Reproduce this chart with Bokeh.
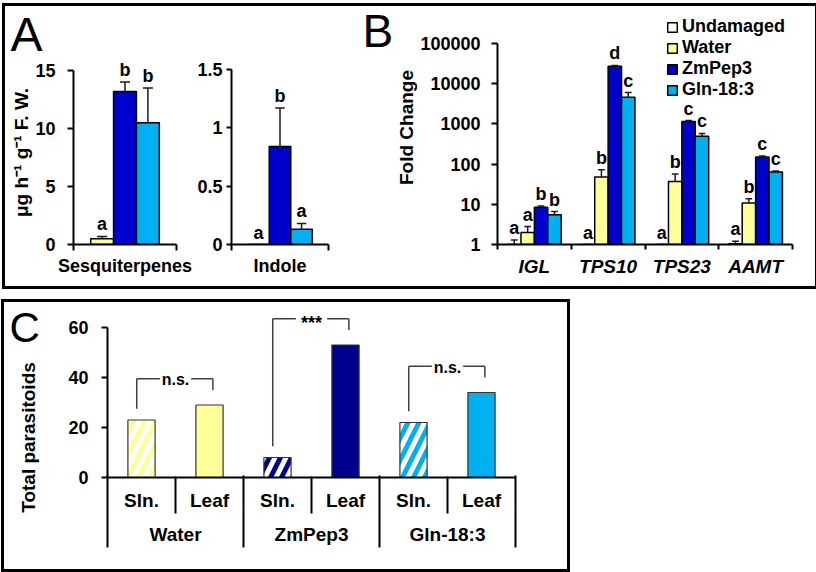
import math
from bokeh.plotting import figure
from bokeh.models import (FixedTicker, Range1d, LinearAxis, Legend, LegendItem)
from bokeh.layouts import row, column
from bokeh.embed import file_html
from bokeh.resources import INLINE
from bokeh.core.properties import value

FONT = "Liberation Sans"

# ---------------- data ----------------
# Panel A
a_series = ["Water", "ZmPep3", "Gln-18:3"]
sesq_mean = [0.5, 13.2, 10.5]
sesq_err = [0.2, 0.8, 3.0]
sesq_letters = ["a", "b", "b"]
indole_mean = [0.0, 0.84, 0.13]
indole_err = [0.0, 0.33, 0.05]
indole_letters = ["a", "b", "a"]
sesq_ticks = [0, 5, 10, 15]
sesq_tick_labels = ["0", "5", "10", "15"]
indole_ticks = [0, 0.5, 1, 1.5]
indole_tick_labels = ["0", "0.5", "1", "1.5"]

# Panel B
genes = ["IGL", "TPS10", "TPS23", "AAMT"]
b_series = ["Undamaged", "Water", "ZmPep3", "Gln-18:3"]
undamaged_fc = [1.0, 1.0, 1.0, 1.05]
undamaged_err = [0.3, 0.0, 0.0, 0.15]
water_fc = [2.0, 48, 37, 10.8]
water_err = [0.8, 24, 20, 3.0]
zmpep_fc = [8.5, 27000, 1150, 150]
zmpep_err = [0.6, 1500, 60, 8]
gln_fc = [5.5, 4600, 490, 64]
gln_err = [1.1, 1400, 90, 3]
undamaged_letters = ["a", "a", "a", "a"]
water_letters = ["a", "b", "b", "b"]
zmpep_letters = ["b", "d", "c", "c"]
gln_letters = ["b", "c", "c", "c"]
fold_ticks = [1, 10, 100, 1000, 10000, 100000]
fold_tick_labels = ["1", "10", "100", "1000", "10000", "100000"]

# Panel C
treatments = ["Water", "ZmPep3", "Gln-18:3"]
sources = ["Sln.", "Leaf"]
sln_counts = [23, 8, 22]
leaf_counts = [29, 53, 34]
significance = ["n.s.", "***", "n.s."]
c_ticks = [0, 20, 40, 60]
c_tick_labels = ["0", "20", "40", "60"]

# ---------------- styles ----------------
a_colors = ["#FFFF99", "#0000CC", "#00B0F0"]
b_colors = ["#FFFFFF", "#FFFF99", "#0000CC", "#00B0F0"]
c_colors = ["#FFFF99", "#000090", "#00B0F0"]
ERR = "#1a1a1a"
BOX = {"outline": "3px solid black", "outline-offset": "-3px"}


def base_fig(x_range, y_range, fw, fh, mb, y_axis_type="linear"):
    p = figure(frame_width=fw, frame_height=fh, x_range=x_range, y_range=y_range,
               y_axis_type=y_axis_type, output_backend="svg", toolbar_location=None,
               min_border_left=mb[0], min_border_right=mb[1],
               min_border_top=mb[2], min_border_bottom=mb[3])
    if "frame_align" in p.properties():
        p.frame_align = False
    p.outline_line_color = None
    p.background_fill_color = None
    p.border_fill_color = None
    p.xgrid.visible = False
    p.ygrid.visible = False
    return p


def style_axis(ax, label_size="18px", tick_out=6, standoff=10):
    ax.axis_line_color = "black"
    ax.axis_line_width = 2
    ax.major_tick_line_color = "black"
    ax.major_tick_line_width = 2
    ax.minor_tick_line_color = "black"
    ax.minor_tick_line_width = 2
    ax.major_tick_in = 0
    ax.minor_tick_in = 0
    ax.major_tick_out = tick_out
    ax.minor_tick_out = 0
    ax.major_label_standoff = standoff
    ax.major_label_text_font = FONT
    ax.major_label_text_font_style = "bold"
    ax.major_label_text_font_size = label_size
    ax.major_label_text_color = "black"
    ax.axis_label_text_font = FONT
    ax.axis_label_text_font_style = "bold"
    ax.axis_label_text_font_size = "19px"
    ax.axis_label_text_color = "black"


def letter_text(p, xs, ys, letters, size="18px", y_offset=-12):
    p.text(x=xs, y=ys, text=letters, text_align="center", text_baseline="middle",
           y_offset=y_offset, text_font=value(FONT), text_font_style="bold",
           text_font_size=size, text_color="black")


def error_bars(p, xs, means, errs, cap):
    tops = [m + e for m, e in zip(means, errs)]
    p.segment(x0=xs, y0=means, x1=xs, y1=tops, line_color=ERR, line_width=1.5)
    p.segment(x0=[x - cap for x in xs], y0=tops, x1=[x + cap for x in xs], y1=tops,
              line_color=ERR, line_width=1.5)
    return tops


def free_text(p, x, y, text, size, style="normal", angle=0.0, align="left"):
    # drawn on the overlay level, so it may sit in the figure's border area
    p.text(x=[x], y=[y], text=[text], angle=angle, text_align=align,
           text_baseline="middle", text_font=value(FONT), text_font_style=style,
           text_font_size=size, text_color="black", level="overlay")


def panel_a(fw, mb, means, errs, letters, ticks, tick_labels, px_per_unit, name,
            tick_out, standoff, ylabel=None):
    fh = 184
    p = base_fig(Range1d(-2.25, 2.25), Range1d(0, fh / px_per_unit), fw, fh, mb)
    xs = [i - (len(means) - 1) / 2 for i in range(len(means))]
    p.vbar(x=xs, top=means, bottom=0, width=1, fill_color=a_colors,
           line_color="black", line_width=1.5)
    tops = error_bars(p, xs, means, errs, 0.22)
    letter_text(p, xs, tops, letters)
    ya = p.yaxis[0]
    style_axis(ya, tick_out=tick_out, standoff=standoff)
    ya.ticker = FixedTicker(ticks=ticks)
    ya.major_label_overrides = dict(zip(ticks, tick_labels))
    ya.bounds = (ticks[0], ticks[-1])
    if ylabel:
        ya.axis_label = ylabel
        ya.axis_label_standoff = 0
    xa = p.xaxis[0]
    style_axis(xa, tick_out=0, standoff=5)
    xa.ticker = FixedTicker(ticks=[0], minor_ticks=[-2.25, 2.25])
    xa.minor_tick_out = 6
    xa.major_label_overrides = {0: name}
    return p


# ---------------- Panel A ----------------
pA1 = panel_a(103, (71, 18, 57, 45), sesq_mean, sesq_err, sesq_letters,
              sesq_ticks, sesq_tick_labels, 11.6, "Sesquiterpenes", 6, 12,
              ylabel="\u03bcg h\u207b\u00b9 g\u207b\u00b9 F. W.")
pA2 = panel_a(97, (34, 15, 57, 45), indole_mean, indole_err, indole_letters,
              indole_ticks, indole_tick_labels, 116.7, "Indole", 5, 4)
pA1.title.text = "A"
pA1.title.align = "left"
pA1.title.offset = -63
pA1.title.standoff = 0
pA1.title.text_font = FONT
pA1.title.text_font_size = "48px"
pA1.title.text_font_style = "normal"
pA1.title.text_color = "black"

# ---------------- Panel B ----------------
fwB, fhB, decade_px = 295, 234, 40.2
pB = base_fig(Range1d(0.5, len(genes) + 0.5), Range1d(1, 10 ** (fhB / decade_px)), fwB, fhB,
              (154, 26, 7, 45), y_axis_type="log")
w = 1 / 5.5
b_vals = [undamaged_fc, water_fc, zmpep_fc, gln_fc]
b_errs = [undamaged_err, water_err, zmpep_err, gln_err]
b_lets = [undamaged_letters, water_letters, zmpep_letters, gln_letters]
renderers = []
for i in range(len(b_series)):
    xs = [g + 1 + (i - 1.5) * w for g in range(len(genes))]
    r = pB.vbar(x=xs, top=b_vals[i], bottom=1, width=w, fill_color=b_colors[i],
                line_color="black", line_width=1.5)
    renderers.append(r)
    tops = error_bars(pB, xs, b_vals[i], b_errs[i], w * 0.25)
    letter_text(pB, xs, tops, b_lets[i])

ya = pB.yaxis[0]
style_axis(ya, tick_out=6, standoff=11)
ya.ticker = FixedTicker(ticks=fold_ticks)
ya.major_label_overrides = dict(zip(fold_ticks, fold_tick_labels))
ya.bounds = (fold_ticks[0], fold_ticks[-1])
ya.axis_label = "Fold Change"
ya.axis_label_standoff = 0
xa = pB.xaxis[0]
style_axis(xa, label_size="19px", tick_out=0, standoff=6)
xa.major_label_text_font_style = "bold italic"
xa.ticker = FixedTicker(ticks=list(range(1, len(genes) + 1)),
                        minor_ticks=[g + 0.5 for g in range(len(genes) + 1)])
xa.minor_tick_out = 5
xa.major_label_overrides = {g + 1: name for g, name in enumerate(genes)}

legend = Legend(items=[LegendItem(label=s, renderers=[r]) for s, r in zip(b_series, renderers)],
                location=(169, 144), glyph_width=12, glyph_height=12, label_height=18,
                label_standoff=4, spacing=0, padding=0, margin=0,
                label_text_font=FONT, label_text_font_style="bold", label_text_font_size="18px",
                label_text_color="black", border_line_color=None, background_fill_alpha=0)
pB.add_layout(legend)
# panel letter: 135 px left of the frame, centred 214 px above the frame bottom
free_text(pB, 0.5 - 135 / (fwB / len(genes)), 10 ** (214 / decade_px), "B", "46px")

# ---------------- Panel C ----------------
fwC, fhC, c_px = 408, 172, 2.5
pC = base_fig(Range1d(0.5, 2 * len(treatments) + 0.5), Range1d(0, fhC / c_px), fwC, fhC,
              (106, 55, 6, 95))
pC.extra_x_ranges = {"grp": Range1d(0, 2 * len(treatments))}
sln_x = [2 * t + 1 for t in range(len(treatments))]
leaf_x = [2 * t + 2 for t in range(len(treatments))]
pC.vbar(x=sln_x, top=sln_counts, bottom=0, width=0.4, fill_color="white",
        hatch_pattern="/", hatch_color=c_colors, hatch_weight=5, hatch_scale=22,
        line_color="#333333", line_width=1.2)
pC.vbar(x=leaf_x, top=leaf_counts, bottom=0, width=0.4, fill_color=c_colors,
        line_color="#333333", line_width=1.2)

gap = 0.23
for t in range(len(treatments)):
    xl = sln_x[t] - 0.07
    xr = leaf_x[t] + 0.05
    xc = (sln_x[t] + leaf_x[t]) / 2
    ytop = max(sln_counts[t], leaf_counts[t]) + 10.5
    pC.segment(x0=[xl, xl, xc + gap, xr], y0=[sln_counts[t] + 4.5, ytop, ytop, ytop],
               x1=[xl, xc - gap, xr, xr], y1=[ytop, ytop, ytop, leaf_counts[t] + 6],
               line_color="#404040", line_width=1.5)
    star = significance[t].startswith("*")
    pC.text(x=[xc], y=[ytop], text=[significance[t]], text_align="center",
            text_baseline="middle", y_offset=4 if star else 1,
            text_font=value(FONT), text_font_style="bold",
            text_font_size="18px" if star else "16px", text_color="black")

ya = pC.yaxis[0]
style_axis(ya, tick_out=6, standoff=13)
ya.ticker = FixedTicker(ticks=c_ticks)
ya.major_label_overrides = dict(zip(c_ticks, c_tick_labels))
ya.bounds = (c_ticks[0], c_ticks[-1])

xa = pC.xaxis[0]
style_axis(xa, label_size="19px", tick_out=0, standoff=12)
xa.ticker = FixedTicker(ticks=sln_x + leaf_x)
overrides = {x: sources[0] for x in sln_x}
overrides.update({x: sources[1] for x in leaf_x})
xa.major_label_overrides = overrides

grp_axis = LinearAxis(x_range_name="grp")
style_axis(grp_axis, label_size="19px", tick_out=0, standoff=10)
grp_axis.axis_line_color = None
grp_axis.ticker = FixedTicker(ticks=[2 * t + 1 for t in range(len(treatments))])
grp_axis.major_tick_in = 37
grp_axis.major_label_overrides = {2 * t + 1: name for t, name in enumerate(treatments)}
pC.add_layout(grp_axis, "below")

sep_axis = LinearAxis(x_range_name="grp")
style_axis(sep_axis, label_size="0px", tick_out=0, standoff=0)
sep_axis.axis_line_color = None
sep_axis.ticker = FixedTicker(ticks=[2 * t for t in range(len(treatments) + 1)])
sep_axis.major_tick_in = 72
sep_axis.major_label_overrides = {2 * t: "" for t in range(len(treatments) + 1)}
pC.add_layout(sep_axis, "below")

c_unit_x = fwC / (2 * len(treatments))
# y title: centred 79 px left of the frame and 40 px above the frame bottom
free_text(pC, 0.5 - 79 / c_unit_x, 40 / c_px, "Total parasitoids", "19px", style="bold",
          angle=math.pi / 2, align="center")
# panel letter: 98 px left of the frame, centred 150 px above the frame bottom
free_text(pC, 0.5 - 98 / c_unit_x, 150 / c_px, "C", "42px")

top = row(pA1, pA2, pB, styles=BOX, margin=(3, 0, 0, 2))
bottom = row(pC, styles=BOX, margin=(0, 0, 0, 1))
layout = column(top, bottom, spacing=10)

open("out.html", "w").write(file_html(layout, INLINE))
